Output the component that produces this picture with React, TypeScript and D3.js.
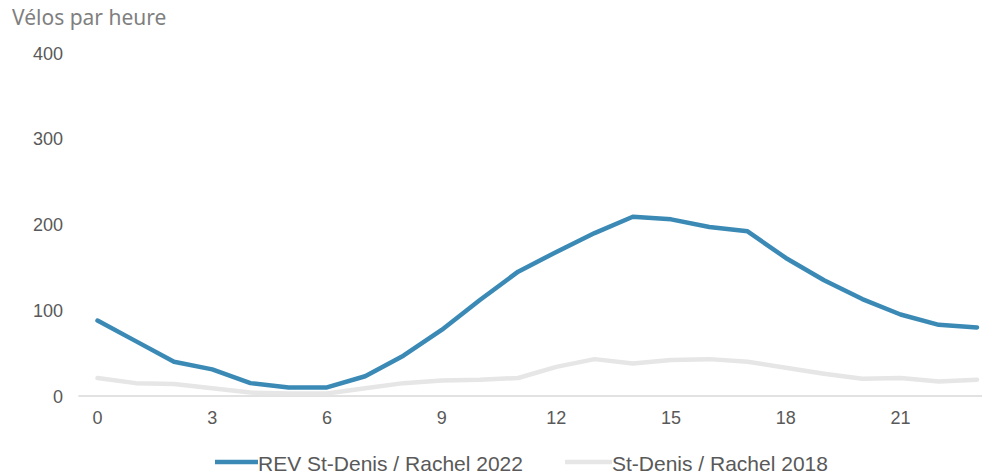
import React from "react";
import * as d3 from "d3";

const hours = d3.range(0, 24);
const rev2022 = [88, 64, 40, 31, 15, 10, 10, 23, 47, 77, 112, 145, 168, 190, 209, 206, 197, 192, 161, 135, 113, 95, 83, 80];
const sd2018 = [21, 15, 14, 9, 4, 3, 3, 9, 15, 18, 19, 21, 34, 43, 38, 42, 43, 40, 33, 26, 20, 21, 17, 19];
const yTicks = [0, 100, 200, 300, 400];
const xTicks = [0, 3, 6, 9, 12, 15, 18, 21];
const seriesNames = ["REV St-Denis / Rachel 2022", "St-Denis / Rachel 2018"];
const colors = ["#3b8ab6", "#e6e6e6"];

export default function App() {
  const W = 982, H = 473;
  const x = d3.scaleLinear().domain([0, 23]).range([97.5, 977]);
  const y = d3.scaleLinear().domain([0, 400]).range([396, 53]);
  const line = d3.line<number>().x((_, i) => x(hours[i])).y((d) => y(d));
  const step = x(1) - x(0);
  return (
    <svg width={W} height={H} style={{ position: "absolute", left: 0, top: 0 }}>
      <rect width={W} height={H} fill="#fff" />
      <text x={12} y={25} fontFamily="'Noto Sans', sans-serif" fontSize={21} fill="#7f7f7f">Vélos par heure</text>
      {yTicks.map((t) => (
        <text key={t} x={63} y={y(t) + 6.5} textAnchor="end" fontFamily="'Liberation Sans', Arial, sans-serif" fontSize={18} fill="#595959">{t}</text>
      ))}
      <line x1={x(0) - step / 2} x2={x(23) + step / 2} y1={y(0)} y2={y(0)} stroke="#d9d9d9" strokeWidth={1.5} />
      {xTicks.map((t) => (
        <text key={t} x={x(t)} y={424} textAnchor="middle" fontFamily="'Liberation Sans', Arial, sans-serif" fontSize={18} fill="#595959">{t}</text>
      ))}
      <path d={line(sd2018) || ""} fill="none" stroke={colors[1]} strokeWidth={4.5} strokeLinejoin="round" strokeLinecap="round" />
      <path d={line(rev2022) || ""} fill="none" stroke={colors[0]} strokeWidth={4.5} strokeLinejoin="round" strokeLinecap="round" />
      {[{ x0: 215, tx: 258 }, { x0: 565, tx: 612 }].map((l, i) => (
        <g key={i}>
          <line x1={l.x0} x2={l.tx} y1={462} y2={462} stroke={colors[i]} strokeWidth={4.5} />
          <text x={l.tx} y={470.5} fontFamily="'Liberation Sans', Arial, sans-serif" fontSize={21} fill="#595959">{seriesNames[i]}</text>
        </g>
      ))}
    </svg>
  );
}
